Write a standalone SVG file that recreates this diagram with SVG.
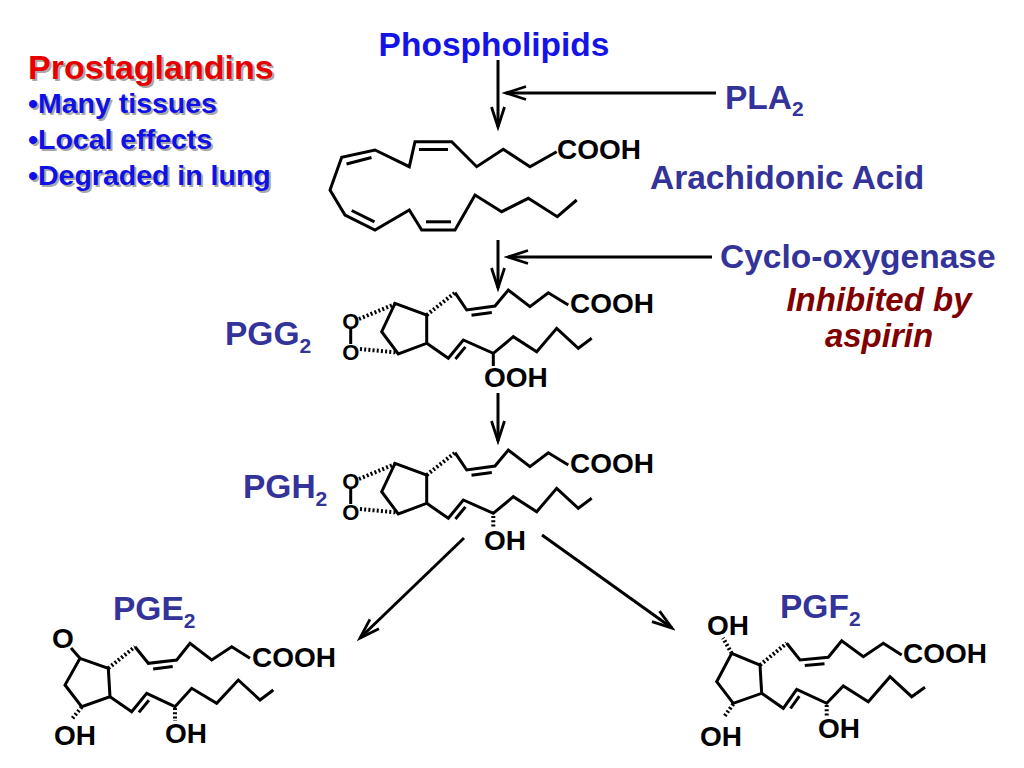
<svg xmlns="http://www.w3.org/2000/svg" width="1024" height="768" viewBox="0 0 1024 768">
<defs>
<style>
.b{stroke:#000;stroke-width:3;fill:none;stroke-linejoin:miter;stroke-linecap:butt}
.h{stroke:#000;stroke-width:4;stroke-dasharray:2 2.2;fill:none}
.ar{stroke:#000;stroke-width:3;fill:none;marker-end:url(#ah)}
.t{font-family:"Liberation Sans",Arial,sans-serif;font-weight:bold}
.c{font-size:28px;fill:#000}
.o{font-size:22px;fill:#000}
.lab{font-size:33.5px;fill:#333399}
.inh{font-size:33px;fill:#800000;font-style:italic}
.sh{fill:#a8a8a8}
</style>
<marker id="ah" markerUnits="userSpaceOnUse" viewBox="-24 -10 28 20" refX="0" refY="0" markerWidth="28" markerHeight="20" orient="auto">
<path d="M-20,-6.5 L0,0 L-20,6.5" stroke="#000" stroke-width="2.8" fill="none"/>
</marker>
</defs>
<rect width="1024" height="768" fill="#fff"/>

<g id="prostaglandins-list" class="t">
<text x="30" y="81" font-size="34" class="sh">Prostaglandins</text>
<text x="28" y="79" font-size="34" fill="#e80000">Prostaglandins</text>
<text x="30" y="115" font-size="28.5" class="sh">•Many tissues</text>
<text x="28" y="113" font-size="28.5" fill="#1010e8">•Many tissues</text>
<text x="30" y="151" font-size="28.5" class="sh">•Local effects</text>
<text x="28" y="149" font-size="28.5" fill="#1010e8">•Local effects</text>
<text x="30" y="187" font-size="28.5" class="sh">•Degraded in lung</text>
<text x="28" y="185" font-size="28.5" fill="#1010e8">•Degraded in lung</text>
</g>

<g id="phospholipids"><text class="t" x="494" y="56" font-size="33.5" fill="#1414e6" text-anchor="middle">Phospholipids</text></g>
<g id="pla2"><text class="t lab" x="725" y="109">PLA<tspan font-size="21" dy="7">2</tspan></text></g>
<g id="arachidonic-label"><text class="t lab" x="650" y="189">Arachidonic Acid</text></g>
<g id="cox"><text class="t lab" x="720" y="268">Cyclo-oxygenase</text></g>
<g id="aspirin" class="t inh" text-anchor="middle">
<text x="879" y="311">Inhibited by</text>
<text x="879" y="347">aspirin</text>
</g>

<g id="arachidonic-acid">
<polyline class="b" points="556.7,151.7 530,166.7 503.3,149.3 476.7,166.7 451.7,141.7 415,141.7 409.3,166.7 375,150 341.7,157.3 330,190 345,215 375,230 409.3,210 421.7,230 455,230 475,195 501.7,211.7 528.3,198.3 557.3,216.7 576.7,200"/>
<line class="b" x1="419" y1="149.5" x2="448" y2="149.5"/>
<line class="b" x1="346.5" y1="164" x2="371.5" y2="157.5"/>
<line class="b" x1="351.7" y1="210.5" x2="374.5" y2="221.9"/>
<line class="b" x1="426" y1="221.8" x2="451" y2="221.8"/>
<text class="t c" x="557" y="159">COOH</text>
</g>

<g id="pgg2">
<text class="t lab" x="225" y="345">PGG<tspan font-size="21" dy="8">2</tspan></text>
<text class="t o" x="350.7" y="329" text-anchor="middle">O</text>
<text class="t o" x="350.7" y="360" text-anchor="middle">O</text>
<line class="b" x1="350.7" y1="328" x2="350.7" y2="344"/>
<polygon class="b" points="395,303.3 426.7,315 426.7,343.3 398.3,354 381.7,331.7"/>
<line class="h" x1="359" y1="319" x2="395" y2="304"/>
<line class="h" x1="360" y1="349" x2="397" y2="352.5"/>
<line class="h" x1="426.7" y1="315" x2="455" y2="292.7"/>
<polyline class="b" points="455,292.7 466.7,310 495,306 508.3,290 530,306.7 548.3,292.7 568.3,305"/>
<line class="b" x1="471.5" y1="315.3" x2="491.8" y2="312.5"/>
<polyline class="b" points="426.7,343.3 448.3,358.3 463.3,340 493.3,353.3 513.3,336.7 536.7,351.7 556.7,328.3 578.3,348.3 591.7,338.3"/>
<line class="b" x1="455.4" y1="359" x2="465.4" y2="346.9"/>
<line class="b" x1="493.3" y1="353.3" x2="493.3" y2="366"/>
<text class="t c" x="570" y="313">COOH</text>
<text class="t c" x="484" y="387">OOH</text>
</g>

<g id="pgh2">
<text class="t lab" x="243" y="498">PGH<tspan font-size="21" dy="8">2</tspan></text>
<g transform="translate(0,160)">
<text class="t o" x="350.7" y="329" text-anchor="middle">O</text>
<text class="t o" x="350.7" y="360" text-anchor="middle">O</text>
<line class="b" x1="350.7" y1="328" x2="350.7" y2="344"/>
<polygon class="b" points="395,303.3 426.7,315 426.7,343.3 398.3,354 381.7,331.7"/>
<line class="h" x1="359" y1="319" x2="395" y2="304"/>
<line class="h" x1="360" y1="349" x2="397" y2="352.5"/>
<line class="h" x1="426.7" y1="315" x2="455" y2="292.7"/>
<polyline class="b" points="455,292.7 466.7,310 495,306 508.3,290 530,306.7 548.3,292.7 568.3,305"/>
<line class="b" x1="471.5" y1="315.3" x2="491.8" y2="312.5"/>
<polyline class="b" points="426.7,343.3 448.3,358.3 463.3,340 493.3,353.3 513.3,336.7 536.7,351.7 556.7,328.3 578.3,348.3 591.7,338.3"/>
<line class="b" x1="455.4" y1="359" x2="465.4" y2="346.9"/>
<line class="h" x1="493.3" y1="356" x2="493.3" y2="367"/>
<text class="t c" x="570" y="313">COOH</text>
<text class="t c" x="484" y="390">OH</text>
</g>
</g>

<g id="pge2">
<text class="t lab" x="113" y="620" font-size="32">PGE<tspan font-size="21" dy="8">2</tspan></text>
<text class="t c" x="63" y="648" text-anchor="middle">O</text>
<line class="b" x1="71" y1="648" x2="80" y2="658.3"/>
<polygon class="b" points="80,658.3 108.3,668.3 110,696.7 81.7,706.7 65,685"/>
<line class="h" x1="108.3" y1="668.3" x2="135" y2="646.7"/>
<polyline class="b" points="135,646.7 148.3,663.3 176.7,660 190,643.3 211.7,660 231.7,646.7 250,658.3"/>
<line class="b" x1="153.2" y1="669" x2="172.7" y2="666.6"/>
<polyline class="b" points="110,696.7 131.7,711.7 146.7,693.3 175,706.7 191.7,688.3 216.7,703.3 238.3,680 260,700 273.3,690"/>
<line class="b" x1="138.9" y1="712.4" x2="148.9" y2="700.2"/>
<line class="h" x1="175" y1="708" x2="175" y2="721"/>
<line class="h" x1="81.7" y1="707" x2="72" y2="719"/>
<text class="t c" x="252" y="667">COOH</text>
<text class="t c" x="165" y="743">OH</text>
<text class="t c" x="54" y="745">OH</text>
</g>

<g id="pgf2">
<text class="t lab" x="780" y="618" font-size="32">PGF<tspan font-size="21" dy="8">2</tspan></text>
<text class="t c" x="707" y="635">OH</text>
<line class="h" x1="731.7" y1="653.3" x2="723" y2="638"/>
<polygon class="b" points="731.7,653.3 760,665 761.7,693.3 733.3,703.3 716.7,681.7"/>
<line class="h" x1="760" y1="665" x2="786.7" y2="643.3"/>
<polyline class="b" points="786.7,643.3 800,660 828.3,657.3 841.7,640.7 863.3,656.7 883.3,643.3 901.7,655"/>
<line class="b" x1="804.8" y1="665.6" x2="824.5" y2="663.7"/>
<polyline class="b" points="761.7,693.3 783.3,708.3 796.7,689.3 826.7,703.3 843.3,686 868.3,701.7 890,676.7 911.7,696.7 925,687.3"/>
<line class="b" x1="790.5" y1="708.5" x2="799.3" y2="696.1"/>
<line class="h" x1="826.7" y1="705" x2="826.7" y2="717"/>
<line class="h" x1="733.3" y1="704" x2="724" y2="717"/>
<text class="t c" x="903" y="663">COOH</text>
<text class="t c" x="818" y="738">OH</text>
<text class="t c" x="700" y="746">OH</text>
</g>

<g id="connectors">
<line class="ar" x1="498" y1="60" x2="498" y2="127"/>
<line class="ar" x1="716" y1="93" x2="506" y2="93"/>
<line class="ar" x1="498" y1="240" x2="498" y2="288"/>
<line class="ar" x1="712" y1="257" x2="508" y2="257"/>
<line class="ar" x1="498" y1="393" x2="498" y2="441"/>
<line class="ar" x1="464" y1="538" x2="360" y2="638"/>
<line class="ar" x1="542" y1="535" x2="672" y2="628"/>
</g>
</svg>
